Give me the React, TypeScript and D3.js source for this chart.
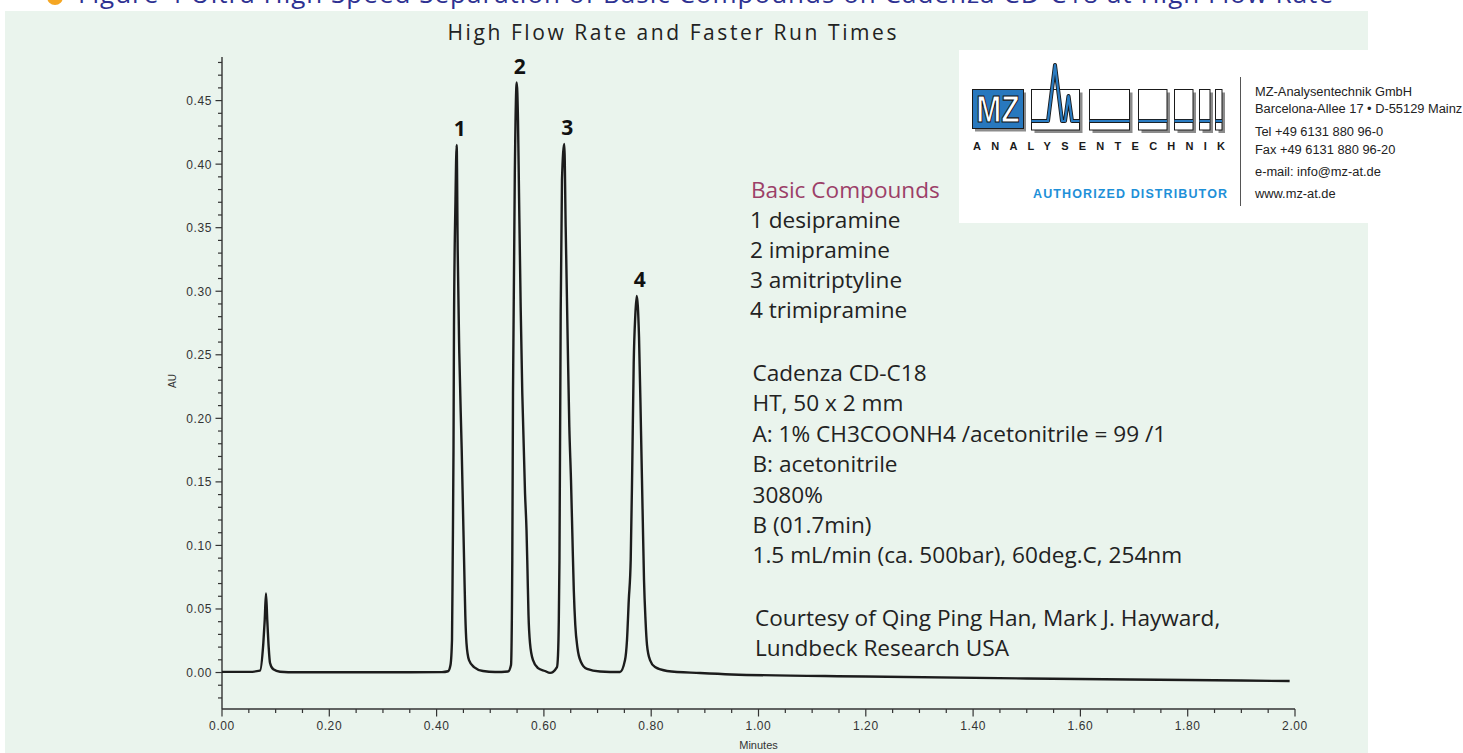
import React from 'react';
import * as d3 from 'd3';

// Chromatogram trace (time in minutes, absorbance in AU)
const TIME = [
  0.0, 0.05, 0.0708, 0.077, 0.0796, 0.082, 0.0844, 0.087, 0.0895, 0.0956, 0.1081, 0.1391,
  0.3, 0.41, 0.4213, 0.4259, 0.4287, 0.43, 0.4315, 0.4324, 0.4352, 0.4374, 0.4393, 0.4423,
  0.4468, 0.4492, 0.4516, 0.4535, 0.4557, 0.4604, 0.4697, 0.4865, 0.5089,
  0.5331, 0.5387, 0.5411, 0.5424, 0.5461, 0.5493, 0.5517, 0.5536, 0.5567, 0.5597, 0.5648,
  0.5676, 0.5694, 0.5713, 0.5741, 0.5797, 0.589, 0.602, 0.6114,
  0.6244, 0.6263, 0.6278, 0.629, 0.6313, 0.6337, 0.638, 0.6406, 0.6444, 0.6474,
  0.6505, 0.6533, 0.6557, 0.6585, 0.6626, 0.6691, 0.6803, 0.7046, 0.7418,
  0.7512, 0.7549, 0.7582, 0.7618, 0.7646, 0.7674, 0.7704, 0.773, 0.7773,
  0.781, 0.7843, 0.7866, 0.7894, 0.7922, 0.7978, 0.8071, 0.8295,
  0.891, 0.95, 1.2, 1.5, 1.8, 1.99,
];
const AU = [
  0.0005, 0.0005, 0.0015, 0.023, 0.041, 0.0623, 0.041, 0.02, 0.0075, 0.0025, 0.0006, 0.0002,
  0.0002, 0.0003, 0.001, 0.006, 0.0256, 0.0885, 0.175, 0.272, 0.372, 0.4151, 0.3325, 0.2514,
  0.175, 0.1279, 0.0807, 0.0452, 0.0232, 0.0098, 0.0043, 0.0012, 0.0004,
  0.0008, 0.006, 0.0885, 0.22, 0.4033, 0.4642, 0.4348, 0.3773, 0.2876, 0.22, 0.1413,
  0.112, 0.0807, 0.0452, 0.0232, 0.0098, 0.0035, 0.0012, -0.0003,
  0.0043, 0.0138, 0.0413, 0.0885, 0.2829, 0.3876, 0.4159, 0.3506, 0.2593, 0.1932,
  0.1515, 0.1043, 0.0649, 0.0374, 0.0193, 0.0083, 0.0028, 0.0008, 0.0004,
  0.0098, 0.0256, 0.057, 0.0885, 0.1593, 0.2436, 0.2813, 0.2963, 0.264,
  0.19, 0.12, 0.0728, 0.0413, 0.0216, 0.0098, 0.0043, 0.0012,
  -0.0004, -0.0015, -0.0031, -0.0047, -0.0059, -0.0067,
];

const PEAK_LABELS = ['1', '2', '3', '4'];
const PEAK_TIMES = [0.4374, 0.5493, 0.638, 0.773];
const PEAK_HEIGHTS = [0.4151, 0.4642, 0.4159, 0.2963];

const X_MAJOR = [0, 0.2, 0.4, 0.6, 0.8, 1.0, 1.2, 1.4, 1.6, 1.8, 2.0];
const Y_MAJOR = [0, 0.05, 0.1, 0.15, 0.2, 0.25, 0.3, 0.35, 0.4, 0.45];

const TITLE = 'High Flow Rate and Faster Run Times';
const X_LABEL = 'Minutes';
const Y_LABEL = 'AU';
const TOP_HEADING = 'Figure 4  Ultra High Speed Separation of Basic Compounds on Cadenza CD-C18 at High Flow Rate';

const COMPOUND_TITLE = 'Basic Compounds';
const COMPOUNDS = ['1 desipramine', '2 imipramine', '3 amitriptyline', '4 trimipramine'];
const CONDITIONS = [
  'Cadenza CD-C18',
  'HT, 50 x 2 mm',
  'A: 1% CH3COONH4 /acetonitrile = 99 /1',
  'B: acetonitrile',
  '3080%',
  'B (01.7min)',
  '1.5 mL/min (ca. 500bar), 60deg.C, 254nm',
];
const CREDITS = ['Courtesy of Qing Ping Han, Mark J. Hayward,', 'Lundbeck Research USA'];

const CONTACT = [
  'MZ-Analysentechnik GmbH',
  'Barcelona-Allee 17 • D-55129 Mainz',
  'Tel +49 6131 880 96-0',
  'Fax +49 6131 880 96-20',
  'e-mail: info@mz-at.de',
  'www.mz-at.de',
];
const CONTACT_Y = [96, 113, 136, 154, 176, 198];

const LOGO_BOXES = [
  [1031.5, 48],
  [1089.5, 40],
  [1138.5, 28.5],
  [1174.5, 18.5],
  [1199.5, 10.5],
  [1215.5, 6.5],
];

function Logo() {
  const top = 89.5;
  const h = 40.5;
  const bandY = 121;
  const peakPts = '1031.5,121 1048,121 1055,65 1062,121 1065,121 1068.5,96 1072,121 1079.5,121';
  return (
    <g>
      <rect x={959} y={50} width={504} height={173} fill="#ffffff" />
      {/* MZ square */}
      <rect x={975} y={92.5} width={51} height={39} fill="#8c8c8c" />
      <rect x={972.5} y={89.5} width={51} height={39} fill="#2878be" stroke="#1a1a1a" strokeWidth={1} />
      <text
        x={0}
        y={0}
        transform="translate(998,122) scale(1,1.25)"
        textAnchor="middle"
        fontFamily="'Liberation Sans', Arial, sans-serif"
        fontWeight={700}
        fontSize={30}
        fill="#ffffff"
        stroke="#111"
        strokeWidth={0.9}
      >
        MZ
      </text>
      {LOGO_BOXES.map(([bx, bw], i) => (
        <g key={i}>
          <rect x={bx + 3} y={top + 3} width={bw} height={h} fill="#8c8c8c" />
          <rect x={bx} y={top} width={bw} height={h} fill="#ffffff" stroke="#1a1a1a" strokeWidth={1} />
          {i > 0 && (
            <g>
              <line x1={bx} x2={bx + bw} y1={bandY} y2={bandY} stroke="#1a1a1a" strokeWidth={4} />
              <line x1={bx} x2={bx + bw} y1={bandY} y2={bandY} stroke="#2a7cc2" strokeWidth={2.2} />
            </g>
          )}
        </g>
      ))}
      <polyline points={peakPts} fill="none" stroke="#1a1a1a" strokeWidth={4} strokeLinejoin="round" />
      <polyline points={peakPts} fill="none" stroke="#2a7cc2" strokeWidth={2.2} strokeLinejoin="round" />
      <text
        x={973}
        y={150}
        textLength={252}
        lengthAdjust="spacing"
        fontFamily="'Liberation Sans', Arial, sans-serif"
        fontWeight={700}
        fontSize={11}
        fill="#1a1a1a"
      >
        ANALYSENTECHNIK
      </text>
      <text
        x={1033}
        y={198}
        textLength={194}
        lengthAdjust="spacing"
        fontFamily="'Liberation Sans', Arial, sans-serif"
        fontWeight={700}
        fontSize={12.5}
        fill="#1e90d8"
      >
        AUTHORIZED DISTRIBUTOR
      </text>
      <line x1={1240.5} x2={1240.5} y1={77} y2={206} stroke="#555" strokeWidth={1} />
      {CONTACT.map((t, i) => (
        <text
          key={t}
          x={1255}
          y={CONTACT_Y[i]}
          fontFamily="'Liberation Sans', Arial, sans-serif"
          fontSize={12.85}
          fill="#222"
        >
          {t}
        </text>
      ))}
    </g>
  );
}

export default function App() {
  const x = d3.scaleLinear().domain([0, 2]).range([222, 1295]);
  const y = d3.scaleLinear().domain([-0.0287, 0.4843]).range([709, 57]);

  const points: [number, number][] = TIME.map((t, i) => [t, AU[i]]);
  const line = d3
    .line<[number, number]>()
    .x((d) => x(d[0]))
    .y((d) => y(d[1]))
    .curve(d3.curveMonotoneX);

  const yMinor = d3.range(-2, 49).map((i) => ({ v: i / 100, major: i % 5 === 0 }));
  const xMinor = d3.range(0, 41).map((i) => ({ v: i * 0.05, major: i % 4 === 0 }));
  const fmt = d3.format('.2f');
  const tickFont = "'Liberation Sans', Arial, sans-serif";
  const textFont = "'Open Sans', 'Noto Sans', sans-serif";
  const bodySize = 22.6;

  return (
    <div style={{ position: 'absolute', left: 0, top: 0 }}>
      <svg width={1463} height={753} style={{ display: 'block' }}>
        <rect x={0} y={0} width={1463} height={753} fill="#ffffff" />
        {/* page heading, cut off by the top edge as in the source */}
        <circle cx={55} cy={-3} r={8} fill="#f5a623" />
        <text x={78} y={3} fontFamily={textFont} fontSize={26} fill="#2e3192" textLength={1255} lengthAdjust="spacing">
          {TOP_HEADING}
        </text>
        <rect x={5} y={11} width={1363} height={742} fill="#eaf4ed" />

        <text
          x={672}
          y={40}
          textAnchor="middle"
          fontFamily={textFont}
          fontSize={21}
          fill="#222"
          textLength={449}
          lengthAdjust="spacing"
        >
          {TITLE}
        </text>

        {/* axes */}
        <line x1={x(0)} x2={x(0)} y1={y.range()[1]} y2={y.range()[0]} stroke="#333" strokeWidth={1.4} />
        <line x1={x(0)} x2={x(2)} y1={y.range()[0]} y2={y.range()[0]} stroke="#333" strokeWidth={1.4} />
        {yMinor.map((d) => (
          <line
            key={'ym' + d.v}
            x1={x(0) - (d.major ? 6.5 : 4)}
            x2={x(0)}
            y1={y(d.v)}
            y2={y(d.v)}
            stroke="#333"
            strokeWidth={1.2}
          />
        ))}
        {Y_MAJOR.map((v) => (
          <text
            key={'yl' + v}
            x={x(0) - 10}
            y={y(v) + 4.5}
            textAnchor="end"
            fontFamily={tickFont}
            fontSize={12}
            letterSpacing={0.6}
            fill="#333"
          >
            {fmt(v)}
          </text>
        ))}
        {xMinor.map((d) => (
          <line
            key={'xm' + d.v}
            x1={x(d.v)}
            x2={x(d.v)}
            y1={y.range()[0]}
            y2={y.range()[0] + (d.major ? 7.5 : 4)}
            stroke="#333"
            strokeWidth={1.2}
          />
        ))}
        {X_MAJOR.map((v) => (
          <text
            key={'xl' + v}
            x={x(v)}
            y={730}
            textAnchor="middle"
            fontFamily={tickFont}
            fontSize={12}
            letterSpacing={0.6}
            fill="#333"
          >
            {fmt(v)}
          </text>
        ))}
        <text x={x(1)} y={749} textAnchor="middle" fontFamily={tickFont} fontSize={11} fill="#333">
          {X_LABEL}
        </text>
        <text
          x={0}
          y={0}
          transform="translate(176,381) rotate(-90)"
          textAnchor="middle"
          fontFamily={tickFont}
          fontSize={10}
          fill="#333"
        >
          {Y_LABEL}
        </text>

        {/* trace */}
        <path d={line(points) || ''} fill="none" stroke="#1c1c1c" strokeWidth={2.4} strokeLinejoin="round" />

        {/* peak labels */}
        {PEAK_LABELS.map((l, i) => (
          <text
            key={'pk' + l}
            x={x(PEAK_TIMES[i]) + 3}
            y={y(PEAK_HEIGHTS[i]) - 9}
            textAnchor="middle"
            fontFamily={textFont}
            fontWeight={700}
            fontSize={21}
            fill="#111"
          >
            {l}
          </text>
        ))}

        {/* annotation block */}
        <text x={751} y={198} fontFamily={textFont} fontSize={bodySize} fill="#9c3f68">
          {COMPOUND_TITLE}
        </text>
        {COMPOUNDS.map((t, i) => (
          <text key={t} x={750} y={228 + i * 30} fontFamily={textFont} fontSize={bodySize} fill="#222">
            {t}
          </text>
        ))}
        {CONDITIONS.map((t, i) => (
          <text key={t} x={752.5} y={381 + i * 30.4} fontFamily={textFont} fontSize={bodySize} fill="#222">
            {t}
          </text>
        ))}
        {CREDITS.map((t, i) => (
          <text key={t} x={755} y={626 + i * 30} fontFamily={textFont} fontSize={bodySize} fill="#222">
            {t}
          </text>
        ))}

        <Logo />
      </svg>
    </div>
  );
}
